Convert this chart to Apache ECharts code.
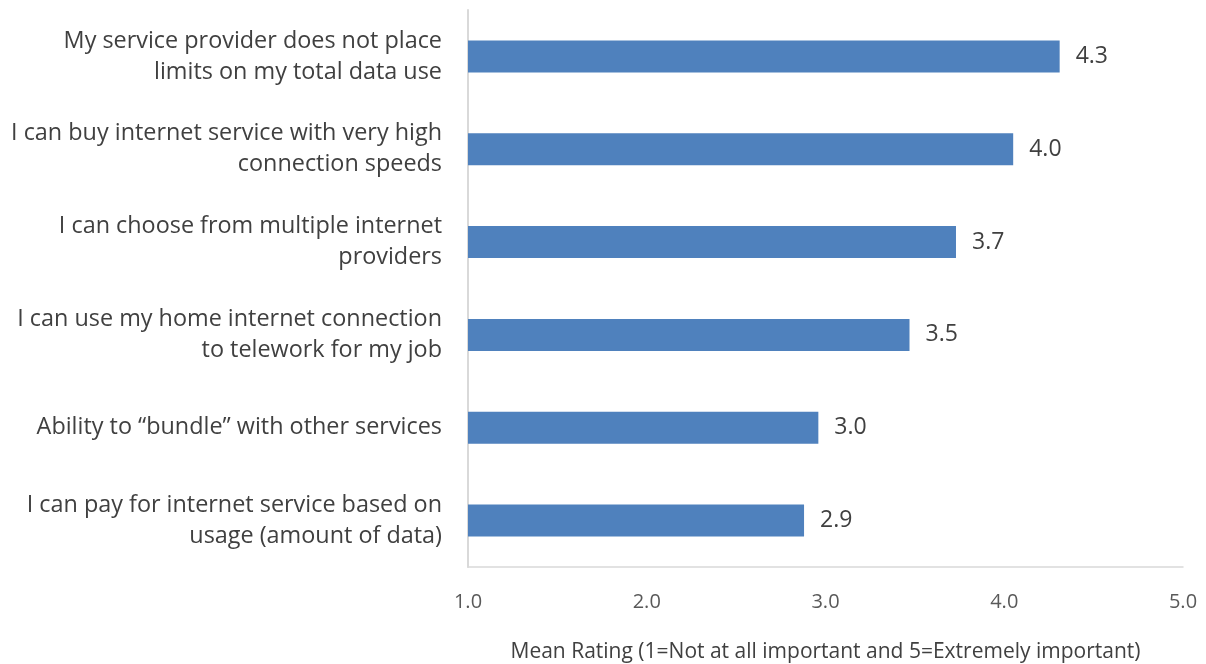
<!DOCTYPE html>
<html>
<head>
<meta charset="utf-8">
<script src="https://cdn.jsdelivr.net/npm/echarts@6/dist/echarts.min.js"></script>
<style>
  html, body { margin: 0; padding: 0; background: #fff; }
  #chart { width: 1206px; height: 664px; }
</style>
</head>
<body>
<div id="chart"></div>
<script>
// categories, top to bottom
var categories = [
    'My service provider does not place\nlimits on my total data use',
    'I can buy internet service with very high\nconnection speeds',
    'I can choose from multiple internet\nproviders',
    'I can use my home internet connection\nto telework for my job',
    'Ability to \u201cbundle\u201d with other services',
    'I can pay for internet service based on\nusage (amount of data)'
];
var meanRating = [4.31, 4.05, 3.73, 3.47, 2.96, 2.88];
var axisTitle = 'Mean Rating (1=Not at all important and 5=Extremely important)';

var chart = echarts.init(document.getElementById('chart'));

var option = {
    backgroundColor: '#ffffff',
    textStyle: { fontFamily: 'Open Sans' },
    grid: {
        left: 468,
        right: 23,
        top: 10,
        bottom: 97,
        containLabel: false,
        outerBoundsMode: 'none'
    },
    xAxis: {
        type: 'value',
        min: 1,
        max: 5,
        interval: 1,
        name: axisTitle,
        nameLocation: 'middle',
        nameGap: 75,
        nameTextStyle: { fontSize: 21, color: '#404040' },
        axisLine: { show: true, lineStyle: { color: '#d9d9d9', width: 1.5 } },
        axisTick: { show: false },
        splitLine: { show: false },
        axisLabel: {
            margin: 25,
            fontSize: 20,
            color: '#595959',
            formatter: function (v) { return v.toFixed(1); }
        }
    },
    yAxis: {
        type: 'category',
        inverse: true,
        data: categories,
        axisLine: { show: true, lineStyle: { color: '#d9d9d9', width: 2 } },
        axisTick: { show: false },
        axisLabel: {
            margin: 26,
            fontSize: 23.4,
            lineHeight: 31,
            color: '#404040',
            align: 'right'
        }
    },
    series: [{
        type: 'bar',
        data: meanRating,
        barWidth: 32,
        itemStyle: { color: '#4f81bd' },
        label: {
            show: true,
            position: 'right',
            distance: 16,
            fontSize: 23,
            color: '#404040',
            formatter: function (p) { return p.value.toFixed(1); }
        }
    }]
};

chart.setOption(option);
</script>
</body>
</html>
